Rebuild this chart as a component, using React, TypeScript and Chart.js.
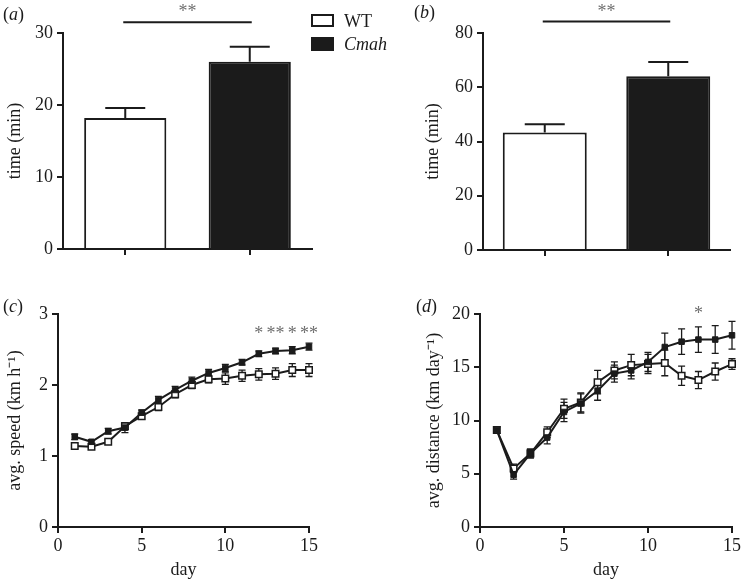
import React, { useEffect, useRef } from 'react';
import { Chart, registerables } from 'chart.js';

Chart.register(...registerables);

const SERIF = "'Liberation Serif', 'Times New Roman', Times, serif";
const INK = '#1b1b1b';
const STAR = '#6e6e6e';

// ---- (a) / (b) bar panels ----
const groups = ['WT', 'Cmah'];
const timeA = [18.2, 26.0];
const timeAErr = [1.4, 2.1];
const timeATicks = [0, 10, 20, 30];
const timeB = [43.3, 64.1];
const timeBErr = [3.1, 5.2];
const timeBTicks = [0, 20, 40, 60, 80];
const sigStarsA = '**';
const sigStarsB = '**';

// ---- (c) / (d) line panels ----
const days = [1, 2, 3, 4, 5, 6, 7, 8, 9, 10, 11, 12, 13, 14, 15];
const dayTicks = [0, 5, 10, 15];

const speedWT = [1.14, 1.13, 1.2, 1.42, 1.56, 1.69, 1.87, 2.0, 2.08, 2.09, 2.13, 2.15, 2.16, 2.21, 2.21];
const speedWTErr = [0.03, 0.03, 0.03, 0.05, 0.04, 0.05, 0.05, 0.05, 0.05, 0.08, 0.08, 0.08, 0.08, 0.09, 0.09];
const speedCmah = [1.27, 1.2, 1.35, 1.4, 1.61, 1.79, 1.93, 2.06, 2.17, 2.24, 2.32, 2.44, 2.48, 2.49, 2.54];
const speedCmahErr = [0.04, 0.03, 0.04, 0.07, 0.04, 0.05, 0.05, 0.05, 0.05, 0.05, 0.04, 0.04, 0.04, 0.05, 0.05];
const speedTicks = [0, 1, 2, 3];
const speedStarDays = [12, 13, 14, 15];
const speedStarText = ['*', '**', '*', '**'];

const distWT = [9.1, 5.5, 6.9, 8.9, 11.1, 11.7, 13.6, 14.7, 15.2, 15.3, 15.4, 14.2, 13.8, 14.6, 15.3];
const distWTErr = [0.3, 0.4, 0.4, 0.5, 0.9, 0.9, 1.1, 0.8, 1.0, 0.9, 1.2, 0.9, 0.8, 0.8, 0.5];
const distCmah = [9.1, 4.9, 6.9, 8.4, 10.8, 11.6, 12.8, 14.4, 14.7, 15.5, 16.9, 17.4, 17.6, 17.6, 18.0];
const distCmahErr = [0.3, 0.4, 0.4, 0.6, 0.9, 0.9, 0.9, 0.8, 0.8, 0.9, 1.3, 1.2, 1.2, 1.3, 1.3];
const distTicks = [0, 5, 10, 15, 20];
const distStarDays = [13];
const distStarText = ['*'];

const FONT = { family: SERIF, size: 18 };

const gridOpts = {
  display: true,
  drawOnChartArea: false,
  drawTicks: true,
  tickLength: 6,
  color: INK,
  lineWidth: 2,
  tickColor: INK,
  tickWidth: 2,
};
const borderOpts = { display: true, color: INK, width: 2 };

function yScale(min: number, max: number, vals: number[], width: number, title: string) {
  return {
    type: 'linear',
    min,
    max,
    afterBuildTicks: (s: any) => {
      s.ticks = vals.map((v) => ({ value: v }));
    },
    afterFit: (s: any) => {
      s.width = width;
    },
    ticks: { font: FONT, color: INK, padding: 4, callback: (v: any) => String(v) },
    grid: gridOpts,
    border: borderOpts,
    title: { display: true, text: title, font: FONT, color: INK, padding: { top: 4, bottom: 0 } },
  };
}

function xDayScale(height: number) {
  return {
    type: 'linear',
    min: 0,
    max: 15,
    afterBuildTicks: (s: any) => {
      s.ticks = dayTicks.map((v) => ({ value: v }));
    },
    afterFit: (s: any) => {
      s.height = height;
    },
    ticks: { font: FONT, color: INK, padding: 2, maxRotation: 0, callback: (v: any) => String(v) },
    grid: gridOpts,
    border: borderOpts,
    title: { display: true, text: 'day', font: FONT, color: INK, padding: { top: 0, bottom: 1 } },
  };
}

function xBarScale(height: number) {
  return {
    type: 'category',
    afterFit: (s: any) => {
      s.height = height;
    },
    ticks: { display: false },
    grid: { ...gridOpts, offset: false },
    border: borderOpts,
  };
}

function makeErrorBars(capHalf: number, lw: number, upOnly: boolean, phase: 'before' | 'after') {
  const draw = (chart: any) => {
    const { ctx } = chart;
    const ys = chart.scales.y;
    ctx.save();
    ctx.strokeStyle = INK;
    ctx.lineWidth = lw;
    chart.data.datasets.forEach((ds: any, di: number) => {
      const errs: number[] | undefined = ds.errors;
      if (!errs) return;
      const meta = chart.getDatasetMeta(di);
      meta.data.forEach((el: any, i: number) => {
        const raw = ds.data[i];
        const v = typeof raw === 'number' ? raw : raw.y;
        const e = errs[i];
        const x = el.x;
        const top = ys.getPixelForValue(v + e);
        const bot = upOnly ? el.y : ys.getPixelForValue(v - e);
        ctx.beginPath();
        ctx.moveTo(x, bot);
        ctx.lineTo(x, top);
        ctx.moveTo(x - capHalf, top);
        ctx.lineTo(x + capHalf, top);
        if (!upOnly) {
          ctx.moveTo(x - capHalf, bot);
          ctx.lineTo(x + capHalf, bot);
        }
        ctx.stroke();
      });
    });
    ctx.restore();
  };
  return phase === 'before'
    ? { id: 'errBefore', beforeDatasetsDraw: draw }
    : { id: 'errAfter', afterDatasetsDraw: draw };
}

function panelLabel(ctx: CanvasRenderingContext2D, letter: string, x: number, y: number) {
  ctx.fillStyle = INK;
  ctx.textBaseline = 'middle';
  ctx.textAlign = 'left';
  ctx.font = `18px ${SERIF}`;
  ctx.fillText('(', x, y);
  let w = ctx.measureText('(').width;
  ctx.font = `italic 18px ${SERIF}`;
  ctx.fillText(letter, x + w, y);
  w += ctx.measureText(letter).width;
  ctx.font = `18px ${SERIF}`;
  ctx.fillText(')', x + w, y);
}

function stars(ctx: CanvasRenderingContext2D, text: string, x: number, yCenter: number) {
  ctx.fillStyle = STAR;
  ctx.font = `18px ${SERIF}`;
  ctx.textAlign = 'center';
  ctx.textBaseline = 'alphabetic';
  ctx.fillText(text, x, yCenter + 9);
}

function sigBar(chart: any, value: number, text: string) {
  const ctx = chart.ctx as CanvasRenderingContext2D;
  const xs = chart.getDatasetMeta(0).data.map((e: any) => e.x);
  const y = chart.scales.y.getPixelForValue(value);
  ctx.strokeStyle = INK;
  ctx.lineWidth = 2;
  ctx.beginPath();
  ctx.moveTo(xs[0] - 2, y);
  ctx.lineTo(xs[1] + 2, y);
  ctx.stroke();
  stars(ctx, text, (xs[0] + xs[1]) / 2, y - 14);
}

function drawLegend(ctx: CanvasRenderingContext2D, x: number, y: number) {
  ctx.lineWidth = 2;
  ctx.strokeStyle = INK;
  ctx.fillStyle = '#ffffff';
  ctx.fillRect(x, y, 23, 13);
  ctx.strokeRect(x + 1, y + 1, 21, 11);
  ctx.fillStyle = INK;
  ctx.fillRect(x, y + 23, 23, 14);
  ctx.textAlign = 'left';
  ctx.textBaseline = 'alphabetic';
  ctx.font = `18px ${SERIF}`;
  ctx.fillText(groups[0], x + 33, y + 13);
  ctx.font = `italic 18px ${SERIF}`;
  ctx.fillText(groups[1], x + 33, y + 36);
}

function annotate(fn: (chart: any, ctx: CanvasRenderingContext2D) => void) {
  return {
    id: 'annot',
    afterDraw: (chart: any) => {
      const ctx = chart.ctx;
      ctx.save();
      fn(chart, ctx);
      ctx.restore();
    },
  };
}

function barConfig(values: number[], errs: number[], yVals: number[], yMax: number, pad: any, yWidth: number, xHeight: number, barPct: number, extra: any) {
  return {
    type: 'bar',
    data: {
      labels: groups,
      datasets: [
        {
          data: values,
          errors: errs,
          backgroundColor: ['#ffffff', INK],
          borderColor: INK,
          borderWidth: 2,
          barPercentage: barPct,
          categoryPercentage: 1,
        },
      ],
    },
    options: {
      responsive: false,
      animation: false,
      layout: { padding: pad },
      plugins: { legend: { display: false }, tooltip: { enabled: false } },
      scales: {
        x: xBarScale(xHeight),
        y: yScale(0, yMax, yVals, yWidth, 'time (min)'),
      },
    },
    plugins: [makeErrorBars(20, 2, true, 'after'), extra],
  };
}

function lineDatasets(wt: number[], wtErr: number[], cm: number[], cmErr: number[]) {
  // Cmah first so that it is painted on top where the two series overlap
  return [
    {
      label: groups[1],
      data: days.map((d, i) => ({ x: d, y: cm[i] })),
      errors: cmErr,
      borderColor: INK,
      borderWidth: 2,
      pointStyle: 'rect',
      pointRadius: 3.9,
      pointBackgroundColor: INK,
      pointBorderColor: INK,
      pointBorderWidth: 1,
      clip: false,
      tension: 0,
    },
    {
      label: groups[0],
      data: days.map((d, i) => ({ x: d, y: wt[i] })),
      errors: wtErr,
      borderColor: INK,
      borderWidth: 2,
      pointStyle: 'rect',
      pointRadius: 4.6,
      pointBackgroundColor: '#ffffff',
      pointBorderColor: INK,
      pointBorderWidth: 1.5,
      clip: false,
      tension: 0,
    },
  ];
}

function lineConfig(datasets: any[], yMax: number, yVals: number[], title: string, pad: any, yWidth: number, xHeight: number, extra: any) {
  return {
    type: 'line',
    data: { datasets },
    options: {
      responsive: false,
      animation: false,
      layout: { padding: pad },
      plugins: { legend: { display: false }, tooltip: { enabled: false } },
      scales: {
        x: xDayScale(xHeight),
        y: yScale(0, yMax, yVals, yWidth, title),
      },
    },
    plugins: [makeErrorBars(3.5, 1.3, false, 'before'), extra],
  };
}

const buildA = () =>
  barConfig(timeA, timeAErr, timeATicks, 30, { left: 0, top: 33, right: 108, bottom: 0 }, 63, 41, 0.66,
    annotate((chart, ctx) => {
      panelLabel(ctx, 'a', 3, 15);
      sigBar(chart, 31.5, sigStarsA);
      drawLegend(ctx, chart.chartArea.right - 1, 14);
    })
  );

const buildB = () =>
  barConfig(timeB, timeBErr, timeBTicks, 80, { left: 48, top: 33, right: 13, bottom: 0 }, 65, 40, 0.68,
    annotate((chart, ctx) => {
      panelLabel(ctx, 'b', 44, 13);
      sigBar(chart, 84.2, sigStarsB);
    })
  );

const buildC = () =>
  lineConfig(lineDatasets(speedWT, speedWTErr, speedCmah, speedCmahErr), 3, speedTicks, 'avg. speed (km h\u207B\u00B9)',
    { left: 0, top: 24, right: 61, bottom: 0 }, 58, 55,
    annotate((chart, ctx) => {
      panelLabel(ctx, 'c', 3, 17);
      const xs = chart.scales.x;
      const ys = chart.scales.y;
      speedStarDays.forEach((d, i) => stars(ctx, speedStarText[i], xs.getPixelForValue(d), ys.getPixelForValue(2.77)));
    })
  );

const buildD = () =>
  lineConfig(lineDatasets(distWT, distWTErr, distCmah, distCmahErr), 20, distTicks, 'avg. distance (km day\u207B\u00B9)',
    { left: 49, top: 24, right: 10, bottom: 0 }, 61, 55,
    annotate((chart, ctx) => {
      panelLabel(ctx, 'd', 46, 17);
      const xs = chart.scales.x;
      const ys = chart.scales.y;
      distStarDays.forEach((d, i) => stars(ctx, distStarText[i], xs.getPixelForValue(d), ys.getPixelForValue(20.4)));
    })
  );

type PanelProps = { left: number; top: number; width: number; height: number; build: () => any };

function Panel({ left, top, width, height, build }: PanelProps) {
  const ref = useRef<HTMLCanvasElement>(null);
  useEffect(() => {
    const chart = new Chart(ref.current as HTMLCanvasElement, build());
    return () => chart.destroy();
  }, []);
  return (
    <canvas
      ref={ref}
      width={width}
      height={height}
      style={{ position: 'absolute', left, top, width, height }}
    />
  );
}

export default function App() {
  return (
    <div style={{ position: 'absolute', left: 0, top: 0, width: 743, height: 582, background: '#ffffff' }}>
      <Panel left={0} top={0} width={420} height={290} build={buildA} />
      <Panel left={370} top={0} width={373} height={290} build={buildB} />
      <Panel left={0} top={290} width={370} height={292} build={buildC} />
      <Panel left={370} top={290} width={373} height={292} build={buildD} />
    </div>
  );
}
